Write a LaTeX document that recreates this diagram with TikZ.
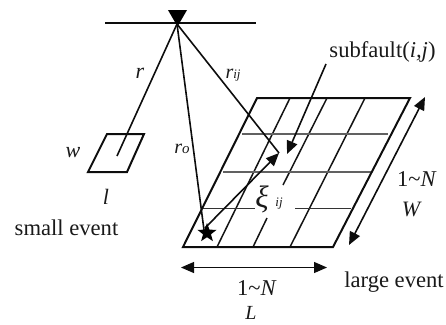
\documentclass[tikz,border=0pt]{standalone}
\usepackage{fontspec}
\setmainfont{Liberation Serif}
\usetikzlibrary{arrows.meta,shapes.geometric}
\newcommand{\tld}{\char"7E}
\tikzset{
 x=1pt,y=-1pt,
 heavy/.style={line width=2pt,black!95},
 grid/.style={line width=1.5pt,black!92},
 thingrid/.style={line width=1.3pt,black!62},
 ray/.style={line width=1.6pt,black!95},
 tip/.style={-{Triangle[length=13pt,width=11pt]}},
 tips/.style={{Triangle[length=13pt,width=11pt]}-{Triangle[length=13pt,width=11pt]}},
 lab/.style={inner sep=0pt,font=\fontsize{22.6}{26}\selectfont,black!90},
 ilab/.style={inner sep=0pt,font=\fontsize{22}{26}\selectfont\itshape,black!90}
}
\begin{document}
\begin{tikzpicture}
\useasboundingbox (0,0) rectangle (446,324);
% coordinates
\coordinate (obsL) at (105,22.5);
\coordinate (obsR) at (256,22.5);
\coordinate (obs) at (177,24);
\coordinate (sBL) at (88,172);
\coordinate (sBR) at (127,172);
\coordinate (sTR) at (144,134);
\coordinate (sTL) at (107,134);
\coordinate (sEnd) at (117,156);
\coordinate (fBL) at (183,247);
\coordinate (fBR) at (333,247);
\coordinate (fTR) at (410,98);
\coordinate (fTL) at (257,98);
\coordinate (hypo) at (204,230);
\coordinate (hypoB) at (205,228);
\coordinate (sub) at (279,153);
\coordinate (subA) at (326,64);
\coordinate (subB) at (287,154);
\coordinate (wA) at (425,97);
\coordinate (wB) at (349,245);
\coordinate (lA) at (181,267.5);
\coordinate (lB) at (327,267.5);
% observation
\draw[heavy] (obsL) -- (obsR);
\node[draw=none,fill=black,regular polygon,regular polygon sides=3,shape border rotate=180,minimum size=22pt,inner sep=0pt] (st) at (177.5,15.5) {};
% small event
\draw[heavy] (sBL) -- (sBR) -- (sTR) -- (sTL) -- cycle;
\draw[ray] (obs) -- (sEnd);
\node[ilab] (r) at (140,73) {r};
\node[ilab] (w) at (73,153) {w};
\node[ilab] (l) at (106,197) {l};
\node[lab] (se) at (66.5,228) {small event};
% fault
\draw[grid] (217,247) -- (290,98);
\draw[grid] (253,247) -- (267,218);
\draw[grid] (283,185) -- (327,98);
\draw[grid] (290,247) -- (365,98);
\draw[thingrid] (242,134) -- (388,134);
\draw[thingrid] (223,172) -- (371,172);
\draw[thingrid,line width=1.1pt,black!80] (202,208.5) -- (255,208.5) (295,208.5) -- (351,208.5);
\draw[heavy] (fBL) -- (fBR) -- (fTR) -- (fTL) -- cycle;
% rays
\draw[ray] (obs) -- (hypo);
\draw[ray] (obs) -- (sub);
\draw[ray,tip] (hypoB) -- (sub);
\draw[ray,tip] (subA) -- (subB);
\node[fill=black,star,star points=5,star point ratio=2.4,minimum size=20pt,inner sep=0pt] (hy) at (207,233) {};
\draw[ray,tips] (wA) -- (wB);
\draw[ray,line width=1.2pt,tips] (lA) -- (lB);
% labels
\node[inner sep=0pt,font=\fontsize{20}{24}\selectfont\itshape,black!90] (r0) at (182,149) {r\fontsize{15}{15}\selectfont o};
\node[inner sep=0pt,font=\fontsize{20}{24}\selectfont\itshape,black!90] (rij) at (233,75) {r\fontsize{13}{13}\selectfont ij};
\node[lab] (sf) at (382.5,52) {subfault(\textit{i,j})};
\node[inner sep=0pt,font=\fontsize{31}{33}\selectfont\itshape,black!90] (xi) at (262,199) {ξ};
\node[inner sep=0pt,font=\fontsize{13}{13}\selectfont\itshape,black!90] (xij) at (279,204) {ij};
\node[lab] (n1) at (417,179) {1\tld\textit{N}};
\node[ilab] (W) at (411,209) {W};
\node[lab] (n2) at (257,288) {1\tld\textit{N}};
\node[inner sep=0pt,font=\fontsize{20}{24}\selectfont\itshape,black!90] (L) at (251,313) {L};
\node[lab] (le) at (394,282) {large event};
\end{tikzpicture}
\end{document}
